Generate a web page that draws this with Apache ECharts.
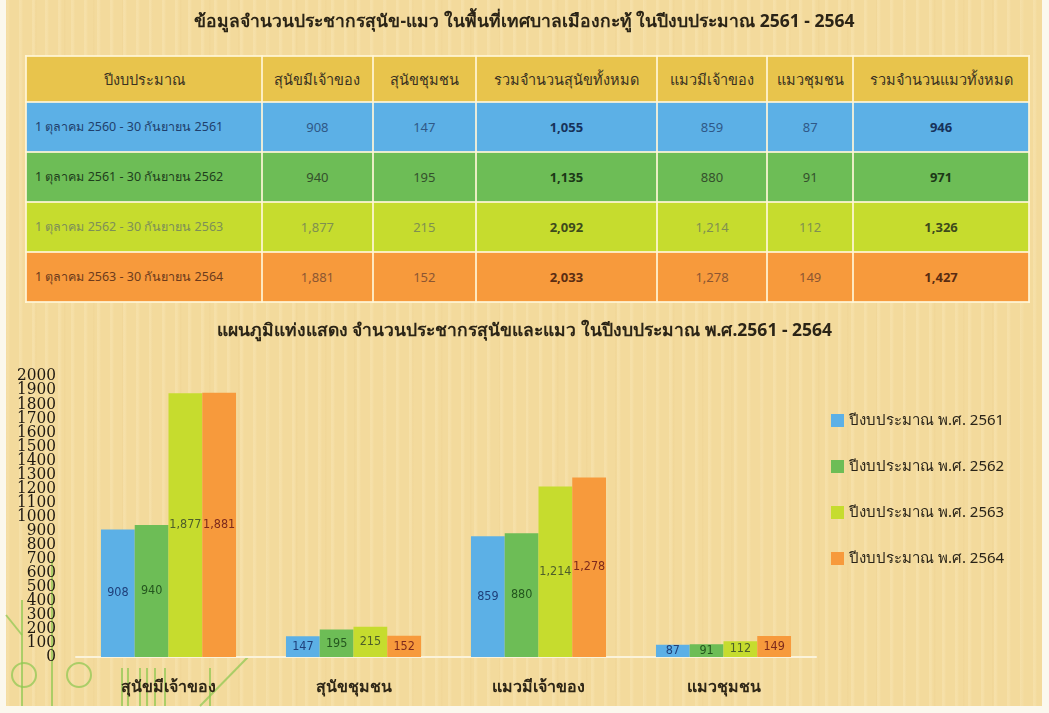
<!DOCTYPE html>
<html><head><meta charset="utf-8">
<script src="https://cdn.jsdelivr.net/npm/echarts@6/dist/echarts.min.js"></script>
<style>
html,body{margin:0;padding:0;background:#fbf8ee;width:1049px;height:713px;overflow:hidden;}
#paper{position:absolute;left:6px;top:0;width:1036px;height:706px;
 background:#f3da9c;
 background-image:
  repeating-linear-gradient(90deg, rgba(255,244,210,0.22) 0px, rgba(255,244,210,0.22) 2px, rgba(0,0,0,0) 4px, rgba(0,0,0,0) 13px),
  repeating-linear-gradient(90deg, rgba(225,190,120,0.10) 0px, rgba(225,190,120,0.10) 1px, rgba(0,0,0,0) 2px, rgba(0,0,0,0) 29px);}
#chart{position:absolute;left:0;top:0;width:1049px;height:713px;}
#title{position:absolute;left:0;top:7px;width:1049px;text-align:center;font:bold 17.5px "Noto Sans","DejaVu Sans",sans-serif;color:#2b2416;}
table{position:absolute;left:25px;top:55px;width:1005px;border-collapse:collapse;font-family:"Noto Sans","DejaVu Sans",sans-serif;}
td,th{border:2px solid rgba(255,246,214,0.85);text-align:center;padding:0;}
th{height:44px;background:#e8c44c;font-size:14.5px;font-weight:normal;color:#3a3222;}
td{height:48px;font-size:13px;}
td.first{text-align:left;padding-left:8px;font-size:12.5px;}
td.tot{font-weight:bold;}
</style></head>
<body>
<div id="paper"></div>
<div id="chart"></div>
<div id="title">ข้อมูลจำนวนประชากรสุนัข-แมว ในพื้นที่เทศบาลเมืองกะทู้  ในปีงบประมาณ 2561 - 2564</div>
<table id="tbl"></table>
<script>
// ---- data ----
var tableHeaders = ['ปีงบประมาณ','สุนัขมีเจ้าของ','สุนัขชุมชน','รวมจำนวนสุนัขทั้งหมด','แมวมีเจ้าของ','แมวชุมชน','รวมจำนวนแมวทั้งหมด'];
var periods = ['1 ตุลาคม 2560 - 30 กันยายน 2561','1 ตุลาคม 2561 - 30 กันยายน 2562','1 ตุลาคม 2562 - 30 กันยายน 2563','1 ตุลาคม 2563 - 30 กันยายน 2564'];
var dogOwned = [908, 940, 1877, 1881];
var dogCommunity = [147, 195, 215, 152];
var dogTotal = [1055, 1135, 2092, 2033];
var catOwned = [859, 880, 1214, 1278];
var catCommunity = [87, 91, 112, 149];
var catTotal = [946, 971, 1326, 1427];
var categories = ['สุนัขมีเจ้าของ','สุนัขชุมชน','แมวมีเจ้าของ','แมวชุมชน'];
var seriesNames = ['ปีงบประมาณ พ.ศ. 2561','ปีงบประมาณ พ.ศ. 2562','ปีงบประมาณ พ.ศ. 2563','ปีงบประมาณ พ.ศ. 2564'];
var yMin = 0, yMax = 2000, yStep = 100;
var chartTitle = 'แผนภูมิแท่งแสดง จำนวนประชากรสุนัขและแมว ในปีงบประมาณ พ.ศ.2561 - 2564';

// ---- styles ----
var rowBg = ['#5cb0e6','#6dbd56','#c6dc2e','#f79a3c'];
var rowText = ['#2f5886','#34502c','#7f9050','#8c5632'];
var rowFirst = ['#1f3f6c','#1f3d1c','#7d8f58','#6c3a1c'];
var rowTot = ['#17325a','#1c3816','#3d4a1c','#5a2c12'];
var labelColors = ['#1f3f7a','#24561e','#4e5e2a','#7e2a1c'];

function fmt(v){return v.toLocaleString('en-US');}

// table
var tbl = document.getElementById('tbl');
var h = '<tr>' + tableHeaders.map(function(t,i){
  var w = [238,110,103,182,110,85,177][i];
  return '<th style="width:'+w+'px">'+t+'</th>';}).join('') + '</tr>';
for (var r=0;r<periods.length;r++){
  var vals=[dogOwned[r],dogCommunity[r],dogTotal[r],catOwned[r],catCommunity[r],catTotal[r]];
  h += '<tr style="background:'+rowBg[r]+'"><td class="first" style="color:'+rowFirst[r]+'">'+periods[r]+'</td>';
  vals.forEach(function(v,i){
    var tot = (i===2||i===5);
    h += '<td class="'+(tot?'tot':'')+'" style="color:'+(tot?rowTot[r]:rowText[r])+'">'+fmt(v)+'</td>';
  });
  h += '</tr>';
}
tbl.innerHTML = h;

// chart
var series = seriesNames.map(function(name, s){
  return {
    name: name, type:'bar', barGap:0, barCategoryGap:'27%',
    data: [dogOwned[s], dogCommunity[s], catOwned[s], catCommunity[s]],
    itemStyle:{color: rowBg[s]},
    label:{show:true, position:'inside', color: labelColors[s], fontSize:12.5,
      fontFamily:'"DejaVu Sans Condensed","DejaVu Sans",sans-serif',
      formatter:function(p){return fmt(p.value);}}
  };
});

var deco = [];
var green = 'rgba(140,200,80,0.7)';
[[22,600,22,706],[52,560,52,706],[122,668,122,706],[128,668,128,706],[140,668,140,706],[147,668,147,706],[155,668,155,706],[165,668,165,706],[210,668,210,706]].forEach(function(l){
  deco.push({type:'line',shape:{x1:l[0],y1:l[1],x2:l[2],y2:l[3]},style:{stroke:green,lineWidth:2},z:-1});
});
deco.push({type:'line',shape:{x1:248,y1:657,x2:200,y2:706},style:{stroke:green,lineWidth:2},z:-1});
deco.push({type:'line',shape:{x1:6,y1:615,x2:22,y2:635},style:{stroke:green,lineWidth:2},z:-1});
deco.push({type:'circle',shape:{cx:24,cy:675,r:12},style:{stroke:green,fill:'none',lineWidth:2},z:-1});
deco.push({type:'circle',shape:{cx:79,cy:675,r:12},style:{stroke:green,fill:'none',lineWidth:2},z:-1});

var yLabelStyle = {fontSize:17, color:'#1e1810', margin:20,
  fontFamily:'"DejaVu Serif Condensed","DejaVu Serif","Liberation Serif",serif',
  formatter:function(v){return String(v);}};

var chart = echarts.init(document.getElementById('chart'), null, {renderer:'canvas'});
chart.setOption({
  animation:false,
  backgroundColor:'transparent',
  title:{text:chartTitle, left:'center', top:317,
    textStyle:{fontSize:17.5, fontWeight:'bold', color:'#2b2416', fontFamily:'"Noto Sans","DejaVu Sans",sans-serif'}},
  legend:{orient:'vertical', left:826, top:408, itemGap:31, itemWidth:13, itemHeight:13, icon:'rect',
    textStyle:{fontSize:15, color:'#2a2418', fontFamily:'"Noto Sans","DejaVu Sans",sans-serif'},
    data: seriesNames},
  grid:{left:76, right:233, top:376, bottom:56, containLabel:false},
  xAxis:{type:'category', data:categories,
    axisLine:{lineStyle:{color:'#fbf3da', width:2}}, axisTick:{show:false},
    axisLabel:{fontSize:16, fontWeight:'bold', color:'#2e2616', margin:22,
      fontFamily:'"Noto Sans","DejaVu Sans",sans-serif'}},
  yAxis:[
    {type:'value', min:yMin, max:yMax, interval:yStep, position:'left',
     axisLine:{show:false}, axisTick:{show:false}, splitLine:{show:false},
     axisLabel:Object.assign({showMinLabel:false, showMaxLabel:false}, yLabelStyle)},
    {type:'value', min:yMin, max:yMax, interval:yMax - yMin, position:'left', offset:0,
     axisLine:{show:false}, axisTick:{show:false}, splitLine:{show:false},
     axisLabel:Object.assign({showMinLabel:true, showMaxLabel:true}, yLabelStyle)}
  ],
  graphic: deco,
  series: series
});
</script>
</body></html>
